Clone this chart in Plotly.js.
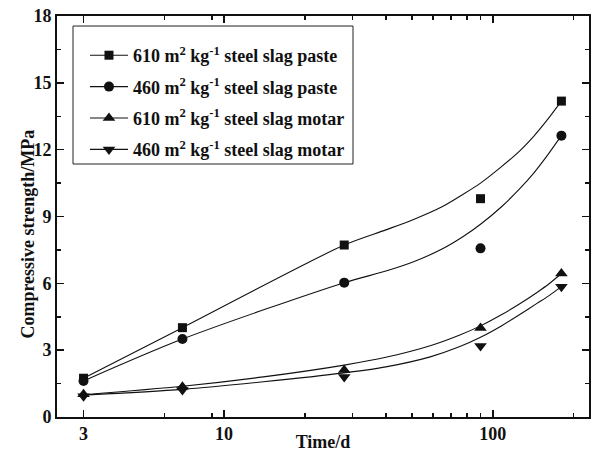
<!DOCTYPE html>
<html>
<head>
<meta charset="utf-8">
<script src="https://cdn.plot.ly/plotly-3.0.1.min.js"></script>
<style>html,body{margin:0;padding:0;background:#fff;}#chart{width:595px;height:452px;}</style>
</head>
<body>
<div id="chart"></div>
<script>
// measured points
const days = [3, 7, 28, 90, 180];
const paste610 = [1.74, 4.01, 7.72, 9.8, 14.18];
const paste460 = [1.62, 3.5, 6.03, 7.57, 12.63];
const mortar610 = [1.02, 1.36, 2.11, 3.99, 6.44];
const mortar460 = [0.93, 1.21, 1.79, 3.19, 5.85];

// fitted curves
const fitDaysPaste = [3, 7, 28, 40, 51, 65, 77.6, 90, 108, 126, 142, 158.6, 180];
const fitPaste610 = [1.74, 4.01, 7.72, 8.4, 8.88, 9.45, 10.0, 10.5, 11.25, 11.95, 12.6, 13.3, 14.18];
const fitPaste460 = [1.62, 3.5, 6.03, 6.55, 6.98, 7.55, 8.1, 8.65, 9.45, 10.25, 10.95, 11.7, 12.63];
const fitDaysMortar = [3, 7, 14, 28, 40, 58.5, 75, 90, 108, 126, 146, 162, 180];
const fitMortar610 = [1.0, 1.38, 1.8, 2.33, 2.68, 3.2, 3.67, 4.09, 4.6, 5.08, 5.59, 5.98, 6.44];
const fitMortar460 = [0.98, 1.24, 1.58, 1.98, 2.25, 2.7, 3.15, 3.58, 4.1, 4.6, 5.1, 5.45, 5.85];

const names = [
  '610 m<sup>2</sup> kg<sup>-1</sup> steel slag paste',
  '460 m<sup>2</sup> kg<sup>-1</sup> steel slag paste',
  '610 m<sup>2</sup> kg<sup>-1</sup> steel slag motar',
  '460 m<sup>2</sup> kg<sup>-1</sup> steel slag motar'
];
const symbols = ['square', 'circle', 'triangle-up', 'triangle-down'];
const sizes = [9, 10, 11, 11];
const pts = [paste610, paste460, mortar610, mortar460];
const fits = [fitPaste610, fitPaste460, fitMortar610, fitMortar460];
const fitX = [fitDaysPaste, fitDaysPaste, fitDaysMortar, fitDaysMortar];

const xTickVals = [3, 10, 100];
const xTickText = ['3', '10', '100'];
const xMinorVals = [6, 9, 20, 30, 40, 50, 60, 70, 80, 90, 200];

const traces = [];
for (let i = 0; i < 4; i++) {
  traces.push({x: fitX[i], y: fits[i], mode: 'lines', line: {color: '#111', width: 1.1, shape: 'spline', smoothing: 0.8}, showlegend: false, hoverinfo: 'skip'});
  traces.push({x: days, y: pts[i], mode: 'markers', marker: {symbol: symbols[i], size: sizes[i], color: '#111'}, showlegend: false});
  traces.push({x: [null], y: [null], mode: 'lines+markers', name: names[i], legendgroup: 'g' + i,
    line: {color: '#111', width: 1.1}, marker: {symbol: symbols[i], size: sizes[i], color: '#111'}});
}

const font = {family: 'Liberation Serif, Times New Roman, serif', color: '#111', size: 18, weight: 'bold'};

const layout = {
  width: 595, height: 452,
  margin: {l: 57, r: 6, t: 16, b: 35},
  paper_bgcolor: '#fff', plot_bgcolor: '#fff',
  font: font,
  showlegend: true,
  legend: {x: 0.0526, y: 0.9476, xanchor: 'left', yanchor: 'top', bgcolor: 'rgba(0,0,0,0)', borderwidth: 0,
    itemwidth: 38,
    font: {family: font.family, size: 18, color: '#111', weight: 'bold'}, tracegroupgap: 5, traceorder: 'grouped'},
  shapes: [{type: 'rect', xref: 'paper', yref: 'paper', x0: 0.0301, x1: 0.5564, y0: 0.6309, y1: 0.975,
    line: {color: '#222', width: 1}, fillcolor: 'rgba(0,0,0,0)'}],
  annotations: [{text: 'Compressive strength/MPa', xref: 'paper', yref: 'paper', x: -0.0545, y: 0.455,
    xanchor: 'center', yanchor: 'middle', textangle: -90, showarrow: false, font: font}],
  xaxis: {
    type: 'log', range: [Math.log10(2.39), Math.log10(228)],
    tickmode: 'array', tickvals: xTickVals, ticktext: xTickText,
    ticks: 'inside', ticklen: 7, tickwidth: 1.5, tickcolor: '#111',
    minor: {tickmode: 'array', tickvals: xMinorVals, ticks: 'inside', ticklen: 4, tickwidth: 1.5, tickcolor: '#111', showgrid: false},
    showline: true, linecolor: '#111', linewidth: 1.8, mirror: 'allticks', showgrid: false, zeroline: false,
    tickfont: font,
    title: {text: 'Time/d', font: font, standoff: 0}
  },
  yaxis: {
    range: [0, 18], tickmode: 'linear', tick0: 0, dtick: 3,
    ticks: 'inside', ticklen: 7, tickwidth: 1.5, tickcolor: '#111',
    minor: {dtick: 1.5, tick0: 0, ticks: 'inside', ticklen: 4, tickwidth: 1.5, tickcolor: '#111', showgrid: false},
    showline: true, linecolor: '#111', linewidth: 1.8, mirror: 'allticks', showgrid: false, zeroline: false,
    tickfont: font
  }
};

Plotly.newPlot('chart', traces, layout, {displayModeBar: false, staticPlot: true});
</script>
</body>
</html>
